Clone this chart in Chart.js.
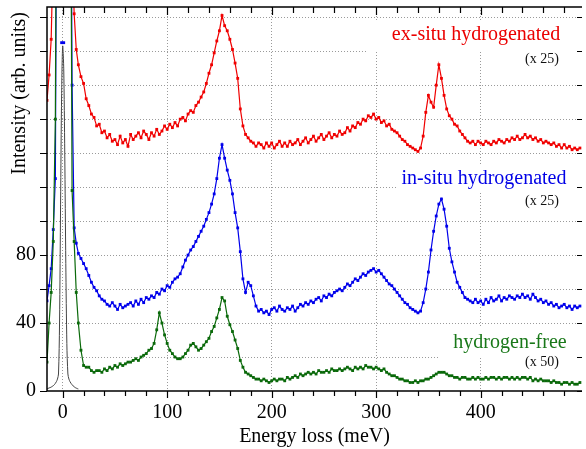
<!DOCTYPE html>
<html>
<head>
<meta charset="utf-8">
<script src="https://cdn.jsdelivr.net/npm/chart.js@4.4.1/dist/chart.umd.min.js"></script>
<style>
  html, body { margin: 0; padding: 0; background: #fff; }
  canvas { display: block; }
</style>
</head>
<body>
<canvas id="grafico" width="586" height="449"></canvas>
<script>
// =========================
// DADOS
// =========================
const energy = [
  -15, -13, -11, -9, -7, -5, -3, -1, 1, 3, 5, 7, 9, 11, 13,
  15, 17.5, 20, 22.5, 25, 27.5, 30, 32.5, 35, 37.5, 40, 42.5, 45, 47.5, 50, 52.5, 55, 57.5, 60, 62.5,
  65, 67.5, 70, 72.5, 75, 77.5, 80, 82.5, 85, 87.5, 90, 92.5, 95, 97.5, 100, 102.5, 105, 107.5, 110, 112.5,
  115, 117.5, 120, 122.5, 125, 127.5, 130, 132.5, 135, 137.5, 140, 142.5, 145, 147.5, 150, 152.5, 155, 157.5, 160, 162.5,
  165, 167.5, 170, 172.5, 175, 177.5, 180, 182.5, 185, 187.5, 190, 192.5, 195, 197.5, 200, 202.5, 205, 207.5, 210, 212.5,
  215, 217.5, 220, 222.5, 225, 227.5, 230, 232.5, 235, 237.5, 240, 242.5, 245, 247.5, 250, 252.5, 255, 257.5, 260, 262.5,
  265, 267.5, 270, 272.5, 275, 277.5, 280, 282.5, 285, 287.5, 290, 292.5, 295, 297.5, 300, 302.5, 305, 307.5, 310, 312.5,
  315, 317.5, 320, 322.5, 325, 327.5, 330, 332.5, 335, 337.5, 340, 342.5, 345, 347.5, 350, 352.5, 355, 357.5, 360, 362.5,
  365, 367.5, 370, 372.5, 375, 377.5, 380, 382.5, 385, 387.5, 390, 392.5, 395, 397.5, 400, 402.5, 405, 407.5, 410, 412.5,
  415, 417.5, 420, 422.5, 425, 427.5, 430, 432.5, 435, 437.5, 440, 442.5, 445, 447.5, 450, 452.5, 455, 457.5, 460, 462.5,
  465, 467.5, 470, 472.5, 475, 477.5, 480, 482.5, 485, 487.5, 490, 492.5, 495
];

// ex-situ hydrogenated (x 25)
const exSitu = [
  171, 186, 207, 262, 330, 400, 460, 500, 500, 460, 400, 300, 260, 222, 201,
  192, 185, 181, 172, 168, 163, 161, 156, 157, 152, 153, 149, 151, 147, 148, 145, 150, 146, 148, 144,
  151, 148, 150, 152, 149, 153, 151, 148, 152, 150, 154, 151, 153, 156, 154, 157, 155, 158, 156, 160,
  161, 159, 163, 165, 164, 168, 170, 173, 176, 181, 187, 192, 199, 206, 212, 221, 215, 212, 207, 201,
  193, 184, 166, 156, 151, 149, 147, 146, 144, 146, 145, 143, 146, 144, 146, 143, 145, 147, 144, 146,
  144, 147, 145, 146, 148, 145, 147, 149, 146, 148, 150, 147, 149, 151, 148, 150, 152, 149, 151, 150,
  153, 151, 152, 155, 153, 156, 155, 158, 157, 160, 159, 162, 161, 163, 160, 161, 158, 159, 156, 157,
  154, 153, 152, 150, 148, 147, 145, 144, 143, 142, 141, 143, 150, 164, 174, 170, 167, 180, 192, 184,
  174, 166, 162, 160, 157, 156, 153, 151, 149, 147, 146, 147, 145, 147, 146, 145, 147, 146, 145, 147,
  146, 148, 147, 146, 148, 147, 149, 148, 150, 148, 149, 151, 149, 150, 148, 149, 147, 148, 146, 147,
  146, 145, 146, 144, 145, 143, 145, 143, 144, 142, 143, 142, 143
];

// in-situ hydrogenated (x 25)
const inSitu = [
  53, 62, 72, 95, 125, 420, null, 205, 205, null, 450, 420, 180, 96, 87,
  81, 78, 75, 72, 68, 64, 61, 59, 56, 54, 53, 51, 50, 52, 50, 48, 51, 49, 50, 51,
  52, 50, 53, 51, 54, 52, 55, 54, 56, 55, 58, 57, 60, 59, 62, 61, 64, 66, 67, 69,
  73, 77, 80, 83, 85, 88, 91, 94, 97, 101, 105, 110, 116, 125, 137, 145, 137, 130, 124, 116,
  105, 96, 82, 66, 58, 64, 62, 56, 50, 47, 48, 46, 47, 45, 48, 49, 47, 50, 48, 47,
  49, 48, 50, 47, 49, 51, 50, 52, 51, 53, 52, 54, 55, 53, 56, 55, 57, 56, 58, 59,
  60, 59, 61, 63, 62, 64, 66, 65, 67, 69, 68, 70, 71, 72, 70, 71, 69, 67, 65, 63,
  62, 60, 58, 56, 54, 52, 51, 49, 48, 47, 46, 47, 52, 60, 70, 83, 94, 103, 110, 113,
  107, 97, 84, 76, 70, 64, 61, 58, 55, 54, 53, 52, 54, 52, 53, 51, 54, 52, 55, 53,
  54, 56, 53, 55, 54, 56, 55, 54, 56, 55, 57, 55, 56, 54, 57, 55, 53, 54, 52, 53,
  51, 52, 50, 51, 49, 50, 51, 49, 50, 48, 50, 49, 50
];

// hydrogen-free (x 50)
const hydrogenFree = [
  17, 40, 58, 88, 160, 450, 500, 500, 500, 500, 500, 420, 118, 88, 58,
  40, 24, 15, 14, 14, 12, 11, 12, 12, 11, 13, 12, 14, 13, 15, 14, 16, 15, 16, 17,
  17, 18, 19, 18, 20, 21, 22, 24, 25, 28, 36, 46, 40, 33, 28, 24, 22, 20, 19, 19,
  20, 22, 24, 27, 28, 26, 24, 25, 27, 29, 31, 35, 38, 43, 48, 55, 53, 44, 39, 35,
  30, 25, 18, 14, 11, 10, 9, 8, 7, 7, 6, 7, 6, 5, 6, 7, 6, 7, 7, 6,
  8, 7, 8, 9, 8, 10, 9, 10, 11, 10, 11, 10, 12, 11, 11, 12, 11, 13, 12, 12,
  13, 12, 13, 14, 13, 12, 14, 13, 14, 13, 15, 14, 14, 13, 14, 13, 12, 13, 11, 10,
  9, 9, 8, 7, 7, 6, 6, 5, 5, 6, 5, 6, 6, 7, 7, 8, 9, 10, 11, 11,
  11, 10, 9, 9, 8, 8, 7, 8, 8, 7, 7, 8, 7, 8, 7, 7, 8, 7, 8, 8,
  7, 8, 7, 8, 8, 7, 8, 7, 8, 7, 8, 8, 7, 8, 6, 7, 6, 7, 6, 6,
  6, 5, 6, 5, 5, 4, 5, 5, 4, 5, 4, 4, 5
];

// pico elástico (linha preta)
const elasticEnergy = [-15, -14, -13, -12, -11, -10, -9, -8, -7, -6, -5, -4, -3, -2, -1, 0, 1, 2, 3, 4, 5, 6, 7, 8, 9, 10, 11, 12, 13, 14, 15];
const elasticValues = [1.2, 1.5, 1.8, 2, 2.3, 2.7, 3.1, 3.7, 4.5, 5.5, 7, 10, 40, 110, 175, 203, 190, 140, 75, 28, 10, 7, 5.5, 4.5, 3.7, 3, 2.5, 2, 1.7, 1.4, 1.2];

const xTickValues = [0, 20, 40, 60, 80, 100, 120, 140, 160, 180, 200, 220, 240, 260, 280, 300, 320, 340, 360, 380, 400, 420, 440, 460, 480];
const yTickValues = [0, 20, 40, 60, 80, 100, 120, 140, 160, 180, 200, 220];
const yLabels     = [0, 40, 80];

const SERIF = "'Liberation Serif', 'Times New Roman', serif";

const pontos = (xs, ys) => xs.map((x, i) => ({ x, y: ys[i] }));

function serie(label, ys, cor) {
  return {
    label,
    data: pontos(energy, ys),
    borderColor: cor,
    backgroundColor: cor,
    borderWidth: 1.2,
    pointStyle: "rect",
    pointRadius: 2,
    pointBorderWidth: 0,
    pointBackgroundColor: cor,
    spanGaps: false,
    clip: 0
  };
}

// =========================
// RÓTULOS (com fundo branco)
// =========================
const rotulos = [
  { box: [367, 20, 219, 32], texto: "ex-situ hydrogenated", x: 476, y: 35, cor: "rgb(235,0,0)", size: 20 },
  { box: null, texto: "(x 25)", x: 542, y: 59, cor: "#111", size: 14 },
  { box: [398, 166, 188, 26], texto: "in-situ hydrogenated", x: 484, y: 179, cor: "rgb(0,0,230)", size: 20 },
  { box: null, texto: "(x 25)", x: 542, y: 201, cor: "#111", size: 14 },
  { box: [440, 327, 146, 31], texto: "hydrogen-free", x: 510, y: 343, cor: "rgb(25,120,25)", size: 20 },
  { box: null, texto: "(x 50)", x: 542, y: 362, cor: "#111", size: 14 }
];

const pluginRotulos = {
  id: "rotulos",
  beforeDatasetsDraw(chart) {
    const ctx = chart.ctx;
    ctx.save();
    rotulos.forEach(r => {
      if (r.box) {
        ctx.fillStyle = "#fff";
        ctx.fillRect(r.box[0], r.box[1], r.box[2], r.box[3]);
      }
    });
    rotulos.forEach(r => {
      ctx.fillStyle = r.cor;
      ctx.font = `${r.size}px ${SERIF}`;
      ctx.textAlign = "center";
      ctx.textBaseline = "middle";
      ctx.fillText(r.texto, r.x, r.y);
    });
    ctx.restore();
  }
};

// =========================
// MOLDURA E TICKS
// =========================
const pluginMoldura = {
  id: "moldura",
  afterDatasetsDraw(chart) {
    const { ctx, chartArea: a, scales: { x, y } } = chart;
    ctx.save();
    ctx.strokeStyle = "#000";
    ctx.lineWidth = 1.5;
    ctx.beginPath();
    ctx.moveTo(a.right, a.top);
    ctx.lineTo(a.left, a.top);
    ctx.lineTo(a.left, a.bottom);
    ctx.lineTo(a.right, a.bottom);
    ctx.stroke();

    ctx.lineWidth = 1.2;
    ctx.beginPath();
    xTickValues.forEach(v => {
      const px = Math.round(x.getPixelForValue(v)) + 0.5;
      const grande = v % 100 === 0;
      ctx.moveTo(px, a.bottom);
      ctx.lineTo(px, a.bottom + (grande ? 7 : 5));
      ctx.moveTo(px, a.top);
      ctx.lineTo(px, a.top + (grande ? 8 : 6));
    });
    yTickValues.forEach(v => {
      const py = Math.round(y.getPixelForValue(v)) + 0.5;
      ctx.moveTo(a.left, py);
      ctx.lineTo(a.left - 7, py);
      ctx.moveTo(a.right, py);
      ctx.lineTo(a.right - 5, py);
    });
    ctx.stroke();
    ctx.restore();
  }
};

// =========================
// GRÁFICO
// =========================
new Chart(document.getElementById("grafico"), {
  type: "line",
  data: {
    datasets: [
      serie("hydrogen-free", hydrogenFree, "rgb(10,105,10)"),
      serie("in-situ hydrogenated", inSitu, "rgb(0,0,235)"),
      serie("ex-situ hydrogenated", exSitu, "rgb(240,0,0)"),
      {
        label: "elastic",
        data: pontos(elasticEnergy, elasticValues),
        borderColor: "#444",
        borderWidth: 1,
        pointRadius: 0,
        tension: 0.3,
        clip: 0
      }
    ]
  },
  options: {
    responsive: false,
    animation: false,
    devicePixelRatio: 1,
    layout: { padding: { top: 7, right: 0, left: 0, bottom: 0 } },
    plugins: {
      legend: { display: false },
      tooltip: { enabled: false }
    },
    scales: {
      x: {
        type: "linear",
        min: -15,
        max: 497,
        afterBuildTicks: s => { s.ticks = xTickValues.map(v => ({ value: v })); },
        afterFit: s => { s.height = 58; s.paddingLeft = 0; s.paddingRight = 0; },
        grid: {
          color: c => (c.tick && c.tick.value % 100 === 0) ? "#9a9a9a" : "rgba(0,0,0,0)",
          lineWidth: 1,
          drawTicks: false
        },
        border: { display: false, dash: [1, 2] },
        ticks: {
          callback: v => (v % 100 === 0 ? String(v) : ""),
          font: { family: SERIF, size: 20 },
          color: "#000",
          padding: 10,
          maxRotation: 0,
          autoSkip: false
        },
        title: {
          display: true,
          text: "Energy loss (meV)",
          font: { family: SERIF, size: 20 },
          color: "#000",
          padding: { top: 0, bottom: 0 }
        }
      },
      y: {
        min: 0,
        max: 226,
        afterBuildTicks: s => { s.ticks = yTickValues.map(v => ({ value: v })); },
        afterFit: s => { s.width = 47; s.paddingTop = 0; s.paddingBottom = 0; },
        grid: {
          color: c => (c.tick && c.tick.value !== 0) ? "#9a9a9a" : "rgba(0,0,0,0)",
          lineWidth: 1,
          drawTicks: false
        },
        border: { display: false, dash: [1, 2] },
        ticks: {
          callback: v => (yLabels.includes(v) ? String(v) : ""),
          font: { family: SERIF, size: 20 },
          color: "#000",
          padding: 11,
          autoSkip: false
        },
        title: {
          display: true,
          text: "Intensity (arb. units) ",
          align: "end",
          font: { family: SERIF, size: 20 },
          color: "#000",
          padding: { top: 8, bottom: 0 }
        }
      }
    }
  },
  plugins: [pluginRotulos, pluginMoldura]
});
</script>
</body>
</html>
